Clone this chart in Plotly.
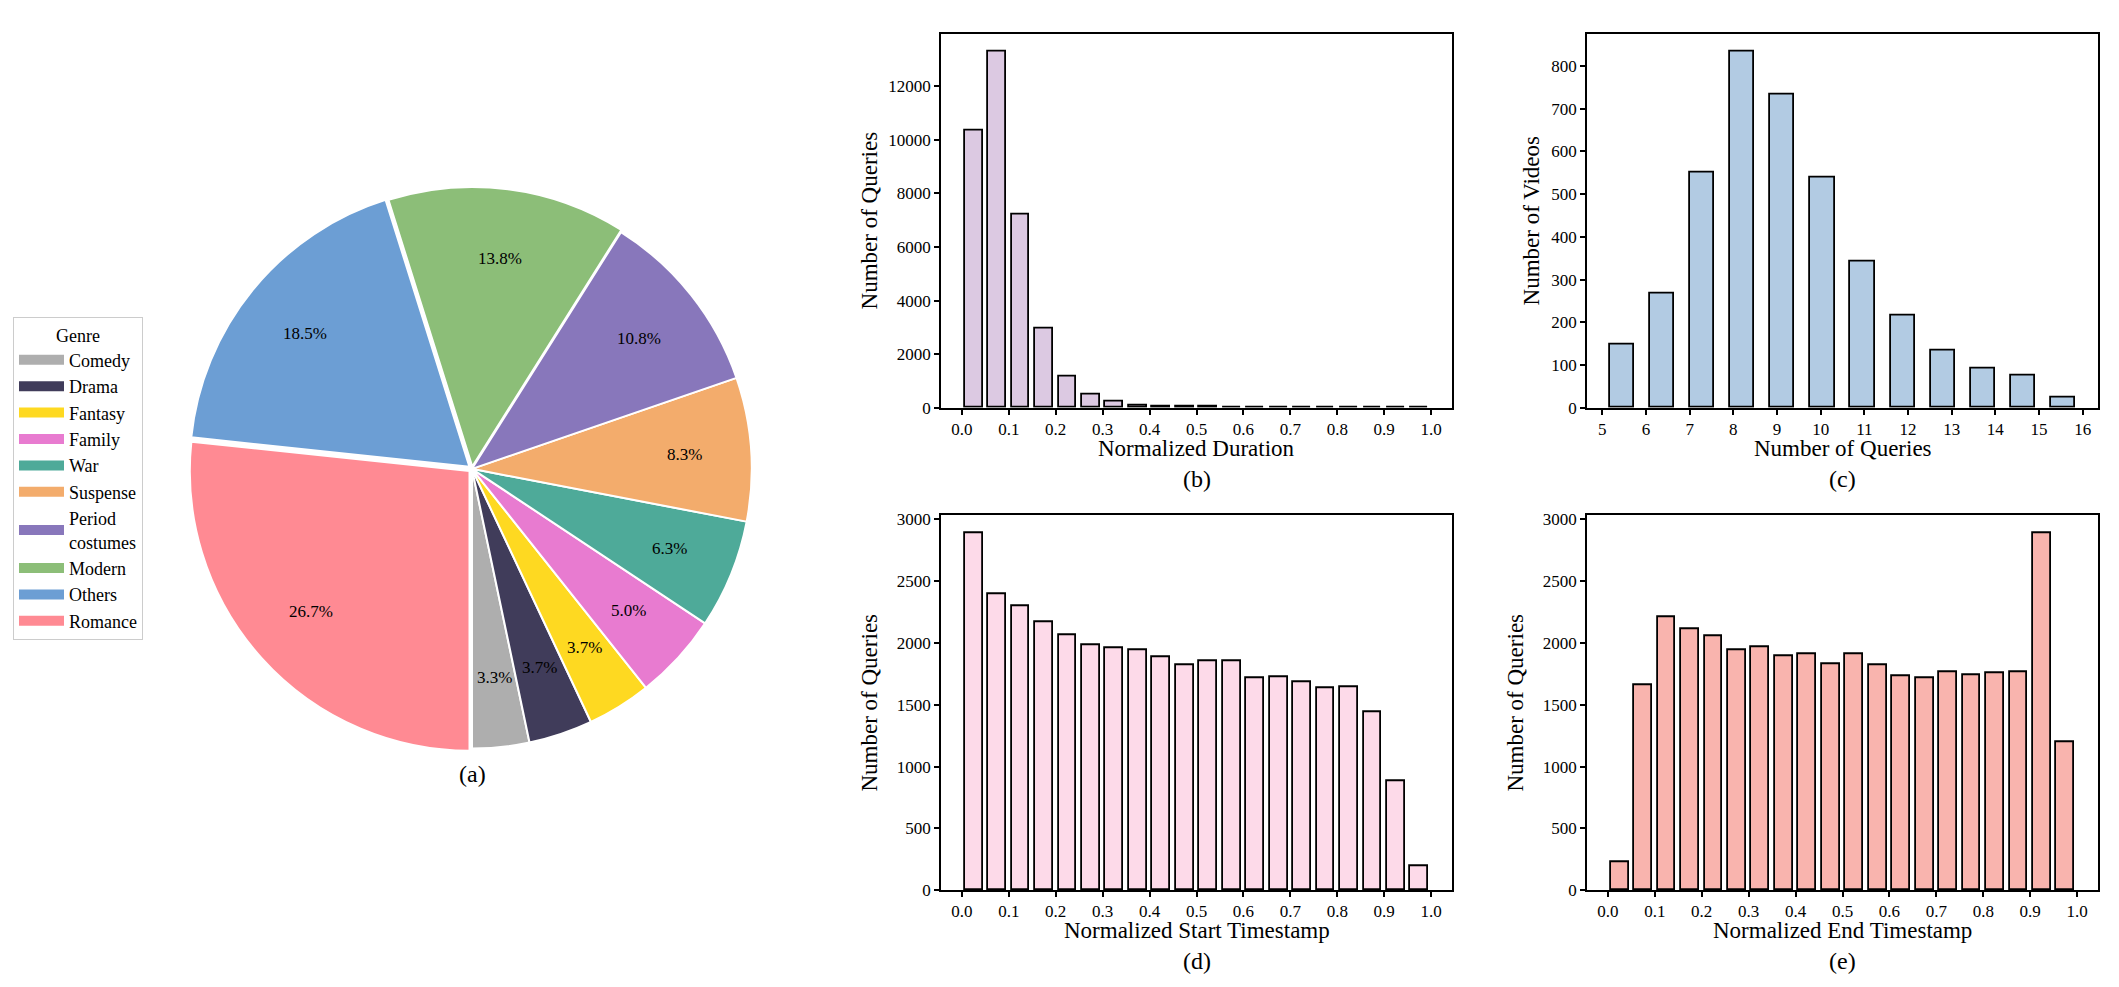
import math
import plotly.graph_objects as go

W, H = 2119, 987
FONT = "Liberation Serif, Times New Roman, serif"

# ---------------- data ----------------
genres = ["Comedy", "Drama", "Fantasy", "Family", "War", "Suspense",
          "Period<br>costumes", "Modern", "Others", "Romance"]
genre_share = [3.3, 3.7, 3.7, 5.0, 6.3, 8.3, 10.8, 13.8, 18.5, 26.7]
genre_colors = ["#AEAEAE", "#403C5A", "#FED921", "#E87BD0", "#4EAA99",
                "#F3AC6C", "#8877BB", "#8CBE78", "#6C9ED4", "#FF8A93"]
genre_pull = [0, 0, 0, 0, 0, 0, 0, 0.008, 0.012, 0.012]

# 20-bin histograms on [0, 1]
bin_centers = [0.025, 0.075, 0.125, 0.175, 0.225, 0.275, 0.325, 0.375, 0.425, 0.475,
               0.525, 0.575, 0.625, 0.675, 0.725, 0.775, 0.825, 0.875, 0.925, 0.975]
duration_counts = [10330, 13300, 7220, 2975, 1165, 495, 215, 100, 60, 40,
                   28, 20, 14, 10, 7, 5, 4, 3, 2, 1]
start_counts = [2885, 2397, 2296, 2164, 2062, 1980, 1958, 1939, 1888, 1816,
                1856, 1856, 1714, 1722, 1680, 1638, 1642, 1438, 879, 192]
end_counts = [230, 1655, 2205, 2113, 2057, 1945, 1966, 1894, 1907, 1830,
              1910, 1821, 1730, 1714, 1765, 1741, 1752, 1760, 2888, 1197]

# queries per video: 12 bins on [5, 16]
query_bin_centers = [5.458, 6.375, 7.292, 8.208, 9.125, 10.042,
                     10.958, 11.875, 12.792, 13.708, 14.625, 15.542]
query_counts = [148, 267, 551, 834, 733, 538, 343, 216, 133, 91, 75, 25]

unit_ticks = [0.0, 0.1, 0.2, 0.3, 0.4, 0.5, 0.6, 0.7, 0.8, 0.9, 1.0]
query_ticks = [5, 6, 7, 8, 9, 10, 11, 12, 13, 14, 15, 16]

x_titles = ["Normalized Duration", "Number of Queries",
            "Normalized Start Timestamp", "Normalized End Timestamp"]
panel_letters = ["(b)", "(c)", "(d)", "(e)"]

# ---------------- layout geometry (px) ----------------
pie_cx, pie_cy, pie_r = 472, 471, 284
max_pull = max(genre_pull)
box = 2 * pie_r * (1 + max_pull)
total = sum(genre_share)
# first slice starts at 6 o'clock and the pie runs counterclockwise
pie_rotation = 180 - 360 * genre_share[0] / total

col_x = [(941, 1452), (1587, 2098)]
row_y = [(29, 409), (518, 899)]

def xdom(c):
    return [col_x[c][0] / W, col_x[c][1] / W]

def ydom(r):
    return [1 - row_y[r][1] / H, 1 - row_y[r][0] / H]

fig = go.Figure()

fig.add_trace(go.Pie(
    labels=genres, values=genre_share, sort=False,
    direction="counterclockwise", rotation=pie_rotation,
    marker=dict(colors=genre_colors, line=dict(color="white", width=2)),
    pull=genre_pull, textinfo="none", hoverinfo="label+percent",
    showlegend=False,
    domain=dict(x=[(pie_cx - box / 2) / W, (pie_cx + box / 2) / W],
                y=[1 - (pie_cy + box / 2) / H, 1 - (pie_cy - box / 2) / H]),
))

# legend entries (wide colour patches like the reference)
for g, c in zip(genres, genre_colors):
    fig.add_trace(go.Scatter(x=[None], y=[None], mode="lines", name=g,
                             line=dict(color=c, width=12),
                             xaxis="x", yaxis="y", hoverinfo="skip"))

bar_line = dict(color="black", width=1.8)
fig.add_trace(go.Bar(x=bin_centers, y=duration_counts, width=0.038,
                     marker=dict(color="#DCC9E2", line=bar_line),
                     xaxis="x", yaxis="y", showlegend=False))
fig.add_trace(go.Bar(x=query_bin_centers, y=query_counts, width=0.55,
                     marker=dict(color="#B2CBE3", line=bar_line),
                     xaxis="x2", yaxis="y2", showlegend=False))
fig.add_trace(go.Bar(x=bin_centers, y=start_counts, width=0.038,
                     marker=dict(color="#FDDAE9", line=bar_line),
                     xaxis="x3", yaxis="y3", showlegend=False))
fig.add_trace(go.Bar(x=bin_centers, y=end_counts, width=0.038,
                     marker=dict(color="#F9B4AE", line=bar_line),
                     xaxis="x4", yaxis="y4", showlegend=False))

annotations = []

def label(x_px, y_px, text, size):
    return dict(x=x_px / W, y=1 - y_px / H, xref="paper", yref="paper",
                xanchor="center", yanchor="middle", text=text, showarrow=False,
                font=dict(size=size, family=FONT, color="black"))

# percentage labels inside pie, placed from the data
cum = 0.0
for v, p in zip(genre_share, genre_pull):
    mid = math.radians(270 + 360 * (cum + v / 2) / total)
    cum += v
    rl = pie_r * (0.75 + p)
    annotations.append(label(pie_cx + rl * math.cos(mid), pie_cy - rl * math.sin(mid),
                             f"{v / total * 100:.1f}%", 17))

annotations.append(label(pie_cx, 781, "(a)", 24))

# x-axis titles and panel letters under each histogram
title_gap, letter_gap = 41, 72
for i, (t, lt) in enumerate(zip(x_titles, panel_letters)):
    r, c = divmod(i, 2)
    xc = (col_x[c][0] + col_x[c][1]) / 2
    annotations.append(label(xc, row_y[r][1] + title_gap, t, 23))
    annotations.append(label(xc, row_y[r][1] + letter_gap, lt, 24))

def xaxis(c, anchor, rng, ticks, fmt):
    return dict(domain=xdom(c), anchor=anchor, range=rng, tickvals=ticks,
                tickformat=fmt, showline=True, mirror=True, linecolor="black",
                linewidth=1.5, ticks="outside", ticklen=5, tickwidth=1.5,
                tickcolor="black", showgrid=False, zeroline=False,
                tickfont=dict(size=17, family=FONT, color="black"))

def yaxis(r, anchor, rng, dtick, title, standoff):
    return dict(domain=ydom(r), anchor=anchor, range=rng, dtick=dtick,
                tickformat="d",
                showline=True, mirror=True, linecolor="black", linewidth=1.5,
                ticks="outside", ticklen=5, tickwidth=1.5, tickcolor="black",
                showgrid=False, zeroline=False,
                tickfont=dict(size=17, family=FONT, color="black"),
                title=dict(text=title, standoff=standoff,
                           font=dict(size=23, family=FONT, color="black")))

fig.update_layout(
    width=W, height=H, margin=dict(l=0, r=0, t=0, b=0),
    paper_bgcolor="white", plot_bgcolor="white",
    font=dict(family=FONT, color="black"),
    bargap=0,
    xaxis=xaxis(0, "y", [-0.0445, 1.0445], unit_ticks, ".1f"),
    yaxis=yaxis(0, "x", [0, 13965], 2000, "Number of Queries", 4),
    xaxis2=xaxis(1, "y2", [4.65, 16.35], query_ticks, "d"),
    yaxis2=yaxis(0, "x2", [0, 876], 100, "Number of Videos", 5),
    xaxis3=xaxis(0, "y3", [-0.0445, 1.0445], unit_ticks, ".1f"),
    yaxis3=yaxis(1, "x3", [0, 3032], 500, "Number of Queries", 13),
    xaxis4=xaxis(1, "y4", [-0.0445, 1.0445], unit_ticks, ".1f"),
    yaxis4=yaxis(1, "x4", [0, 3032], 500, "Number of Queries", 13),
    showlegend=True,
    legend=dict(x=13 / W, y=1 - 317 / H, xanchor="left", yanchor="top",
                bordercolor="#CCCCCC", borderwidth=1, bgcolor="white",
                itemwidth=45,
                font=dict(size=18, family=FONT, color="black"),
                title=dict(text="Genre", side="top center",
                           font=dict(size=18, family=FONT, color="black")),
                traceorder="normal"),
    annotations=annotations,
)

fig.write_html("out.html",
               config={"displayModeBar": False},
               post_script="document.body.style.margin='0';"
                           "document.body.style.overflow='hidden';")
